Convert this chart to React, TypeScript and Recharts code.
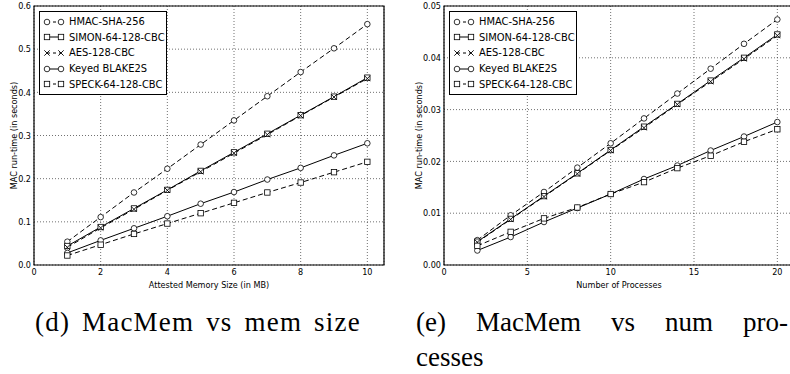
import React from 'react';
import {
  CartesianGrid,
  Legend,
  Line,
  LineChart,
  ReferenceArea,
  XAxis,
  YAxis,
} from 'recharts';

// (d) MAC run-time vs attested memory size
const memSizes = [1, 2, 3, 4, 5, 6, 7, 8, 9, 10];
const memHmac = [0.054, 0.111, 0.168, 0.223, 0.279, 0.335, 0.391, 0.447, 0.502, 0.558];
const memSimon = [0.044, 0.088, 0.131, 0.174, 0.218, 0.261, 0.304, 0.347, 0.39, 0.434];
const memAes = [0.041, 0.086, 0.129, 0.173, 0.216, 0.259, 0.302, 0.346, 0.389, 0.432];
const memBlake = [0.028, 0.057, 0.085, 0.113, 0.142, 0.169, 0.198, 0.225, 0.254, 0.282];
const memSpeck = [0.022, 0.047, 0.072, 0.096, 0.12, 0.144, 0.168, 0.191, 0.215, 0.239];
const memXTicks = [0, 2, 4, 6, 8, 10];
const memYTicks = [0, 0.1, 0.2, 0.3, 0.4, 0.5, 0.6];

// (e) MAC run-time vs number of processes
const procCounts = [2, 4, 6, 8, 10, 12, 14, 16, 18, 20];
const procHmac = [0.0048, 0.0096, 0.0141, 0.0188, 0.0235, 0.0283, 0.0331, 0.0379, 0.0427, 0.0474];
const procSimon = [0.0045, 0.0089, 0.0133, 0.0177, 0.0222, 0.0267, 0.0311, 0.0356, 0.04, 0.0445];
const procAes = [0.0044, 0.0088, 0.0132, 0.0176, 0.0221, 0.0265, 0.031, 0.0354, 0.0398, 0.0443];
const procBlake = [0.0028, 0.0054, 0.0083, 0.011, 0.0137, 0.0166, 0.0192, 0.0221, 0.0248, 0.0276];
const procSpeck = [0.0037, 0.0064, 0.009, 0.0111, 0.0137, 0.016, 0.0187, 0.0211, 0.0238, 0.0262];
const procXTicks = [0, 5, 10, 15, 20];
const procYTicks = [0, 0.01, 0.02, 0.03, 0.04, 0.05];

type Marker = 'circle' | 'square' | 'x';
type Series = { key: string; name: string; marker: Marker; dashed: boolean };

const SERIES: Series[] = [
  { key: 'hmac', name: 'HMAC-SHA-256', marker: 'circle', dashed: true },
  { key: 'simon', name: 'SIMON-64-128-CBC', marker: 'square', dashed: false },
  { key: 'aes', name: 'AES-128-CBC', marker: 'x', dashed: true },
  { key: 'blake', name: 'Keyed BLAKE2S', marker: 'circle', dashed: false },
  { key: 'speck', name: 'SPECK-64-128-CBC', marker: 'square', dashed: true },
];

const memRows = memSizes.map((x, i) => ({
  x,
  hmac: memHmac[i],
  simon: memSimon[i],
  aes: memAes[i],
  blake: memBlake[i],
  speck: memSpeck[i],
}));

const procRows = procCounts.map((x, i) => ({
  x,
  hmac: procHmac[i],
  simon: procSimon[i],
  aes: procAes[i],
  blake: procBlake[i],
  speck: procSpeck[i],
}));

const SANS = "'DejaVu Sans Condensed', 'DejaVu Sans', sans-serif";
const SERIF = "'Liberation Serif', 'DejaVu Serif', serif";
const DASH = '5 3';

function MarkerShape({ marker, cx, cy }: { marker: Marker; cx: number; cy: number }) {
  if (marker === 'circle') {
    return <circle cx={cx} cy={cy} r={2.8} fill="#fff" stroke="#000" strokeWidth={0.8} />;
  }
  if (marker === 'square') {
    return <rect x={cx - 2.7} y={cy - 2.7} width={5.4} height={5.4} fill="#fff" stroke="#000" strokeWidth={0.8} />;
  }
  const s = 2.7;
  return (
    <path
      d={`M${cx - s},${cy - s}L${cx + s},${cy + s}M${cx - s},${cy + s}L${cx + s},${cy - s}`}
      stroke="#000"
      strokeWidth={0.9}
      fill="none"
    />
  );
}

function dotFor(marker: Marker) {
  return (props: any) => {
    const { cx, cy, index } = props;
    if (cx == null || cy == null) return <g key={index} />;
    return (
      <g key={index}>
        <MarkerShape marker={marker} cx={cx} cy={cy} />
      </g>
    );
  };
}

function LegendBox() {
  return (
    <div
      style={{
        border: '1px solid #000',
        background: '#fff',
        padding: '2px 1px 2px 2px',
        fontFamily: SANS,
        fontSize: 11,
        color: '#000',
      }}
    >
      {SERIES.map((s) => (
        <div key={s.key} style={{ display: 'flex', alignItems: 'center', height: 15.6, whiteSpace: 'nowrap' }}>
          <svg width={24} height={10} style={{ marginRight: 3, overflow: 'visible' }}>
            <line x1={5} y1={5} x2={19} y2={5} stroke="#000" strokeWidth={1} strokeDasharray={s.dashed ? '3 3' : undefined} />
            <MarkerShape marker={s.marker} cx={5} cy={5} />
            <MarkerShape marker={s.marker} cx={19} cy={5} />
          </svg>
          <span>{s.name}</span>
        </div>
      ))}
    </div>
  );
}

function YLabel({ viewBox, offset, text }: { viewBox?: any; offset: number; text: string }) {
  if (!viewBox) return null;
  const x = viewBox.x + offset;
  const y = viewBox.y + viewBox.height / 2;
  return (
    <text
      x={x}
      y={y}
      transform={`rotate(-90, ${x}, ${y})`}
      textAnchor="middle"
      dominantBaseline="central"
      fontFamily={SANS}
      fontSize={9}
      fill="#000"
    >
      {text}
    </text>
  );
}

type PanelProps = {
  rows: Record<string, number>[];
  width: number;
  yAxisWidth: number;
  yLabelOffset: number;
  xDomain: [number, number];
  xTicks: number[];
  yDomain: [number, number];
  yTicks: number[];
  yDigits: number;
  xLabel: string;
  legendLeft: number;
};

function Panel(p: PanelProps) {
  const tick = { fontFamily: SANS, fontSize: 9, fill: '#000' };
  return (
    <LineChart width={p.width} height={300} data={p.rows} margin={{ top: 6, right: 11, bottom: 0, left: 0 }}>
      <CartesianGrid stroke="#333" strokeDasharray="1 2" strokeWidth={0.7} />
      <XAxis
        type="number"
        dataKey="x"
        domain={p.xDomain}
        ticks={p.xTicks}
        allowDataOverflow
        axisLine={false}
        tickLine={false}
        tickSize={0}
        tickMargin={4}
        height={35}
        tick={tick}
        label={{ value: p.xLabel, position: 'insideBottom', offset: 12, style: { fontFamily: SANS, fontSize: 9, fill: '#000' } }}
      />
      <YAxis
        type="number"
        domain={p.yDomain}
        ticks={p.yTicks}
        allowDataOverflow
        axisLine={false}
        tickLine={false}
        tickSize={0}
        tickMargin={3}
        width={p.yAxisWidth}
        tick={tick}
        tickFormatter={(v) => Number(v).toFixed(p.yDigits)}
        label={{ content: (lp: any) => <YLabel viewBox={lp.viewBox} offset={p.yLabelOffset} text="MAC run-time (in seconds)" /> }}
      />
      <ReferenceArea
        x1={p.xDomain[0]}
        x2={p.xDomain[1]}
        y1={p.yDomain[0]}
        y2={p.yDomain[1]}
        fill="none"
        stroke="#000"
        strokeWidth={1.2}
        fillOpacity={0}
        ifOverflow="visible"
      />
      {SERIES.map((s) => (
        <Line
          key={s.key}
          type="linear"
          dataKey={s.key}
          name={s.name}
          stroke="#000"
          strokeWidth={1}
          strokeDasharray={s.dashed ? DASH : undefined}
          dot={dotFor(s.marker)}
          activeDot={false}
          isAnimationActive={false}
        />
      ))}
      <Legend
        layout="vertical"
        align="center"
        verticalAlign="middle"
        wrapperStyle={{ left: p.legendLeft, top: 11, width: 'auto', height: 'auto' }}
        content={() => <LegendBox />}
      />
    </LineChart>
  );
}

const captionStyle: React.CSSProperties = {
  position: 'absolute',
  fontFamily: SERIF,
  fontSize: 27,
  lineHeight: '30px',
  color: '#000',
  whiteSpace: 'nowrap',
};

export default function App() {
  return (
    <div style={{ position: 'absolute', left: 0, top: 0, width: 790, height: 374, overflow: 'hidden', background: '#fff' }}>
      <div style={{ position: 'absolute', left: 0, top: 0 }}>
        <Panel
          rows={memRows}
          width={395}
          yAxisWidth={34}
          yLabelOffset={14}
          xDomain={[0, 10.5]}
          xTicks={memXTicks}
          yDomain={[0, 0.6]}
          yTicks={memYTicks}
          yDigits={1}
          xLabel="Attested Memory Size (in MB)"
          legendLeft={39}
        />
      </div>
      <div style={{ position: 'absolute', left: 395, top: 0 }}>
        <Panel
          rows={procRows}
          width={410}
          yAxisWidth={49}
          yLabelOffset={24}
          xDomain={[0, 21]}
          xTicks={procXTicks}
          yDomain={[0, 0.05]}
          yTicks={procYTicks}
          yDigits={2}
          xLabel="Number of Processes"
          legendLeft={54}
        />
      </div>
      <div style={{ ...captionStyle, left: 35, top: 307, letterSpacing: 1.2, wordSpacing: 4 }}>(d) MacMem vs mem size</div>
      <div style={{ ...captionStyle, left: 416, top: 307, width: 372, display: 'flex', justifyContent: 'space-between' }}>
        <span>(e)</span>
        <span>MacMem</span>
        <span>vs</span>
        <span>num</span>
        <span>pro-</span>
      </div>
      <div style={{ ...captionStyle, left: 416, top: 346, lineHeight: '22px' }}>cesses</div>
    </div>
  );
}
